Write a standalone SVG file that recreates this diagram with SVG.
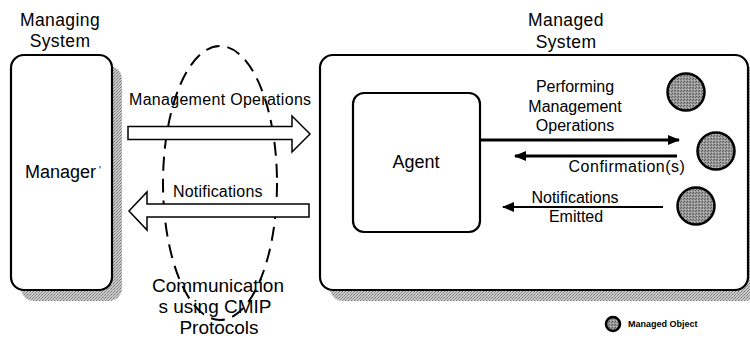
<svg xmlns="http://www.w3.org/2000/svg" width="750" height="339" viewBox="0 0 750 339">
  <defs>
    <!-- stippled grey used for drop shadows -->
    <pattern id="stipple" width="3" height="3" patternUnits="userSpaceOnUse">
      <rect width="3" height="3" fill="#c8c8c8"/>
      <rect x="0" y="0" width="1" height="1" fill="#777"/>
      <rect x="2" y="1" width="1" height="1" fill="#8a8a8a"/>
      <rect x="1" y="2" width="1" height="1" fill="#999"/>
    </pattern>
    <!-- darker stipple for managed object discs -->
    <pattern id="objfill" width="3" height="3" patternUnits="userSpaceOnUse">
      <rect width="3" height="3" fill="#9a9a9a"/>
      <rect x="0" y="0" width="1" height="1" fill="#555"/>
      <rect x="2" y="1" width="1" height="1" fill="#666"/>
      <rect x="1" y="2" width="1" height="1" fill="#c0c0c0"/>
    </pattern>
    <marker id="head" viewBox="0 0 12 10" refX="11" refY="5" markerWidth="12" markerHeight="10" markerUnits="userSpaceOnUse" orient="auto">
      <path d="M0,0 L12,5 L0,10 Z" fill="#000"/>
    </marker>
  </defs>
  <style>
    text { font-family: "Liberation Sans", Arial, sans-serif; fill: #000; }
    .box { fill: #fff; stroke: #000; stroke-width: 2.2; }
    .shadow { fill: url(#stipple); stroke: none; }
    .obj { fill: url(#objfill); stroke: #000; stroke-width: 2.5; }
    .hollow { fill: #fff; stroke: #000; stroke-width: 1.5; stroke-linejoin: miter; }
    .link { stroke: #000; fill: none; marker-end: url(#head); }
    .lbl16 { font-size: 16px; }
    .mid { text-anchor: middle; }
  </style>

  <!-- Managing system -->
  <g id="managing-system">
    <text class="mid" x="60" y="26" font-size="17.5" letter-spacing="0.4">Managing</text>
    <text class="mid" x="60" y="47" font-size="17.5" letter-spacing="0.4">System</text>
  </g>
  <g id="manager">
    <rect class="shadow" x="21" y="66" width="101" height="235" rx="13"/>
    <rect class="box" x="11" y="55" width="101" height="235" rx="13" stroke-width="2.5"/>
    <text x="25" y="178" font-size="18">Manager<tspan dx="3" font-size="10" dy="-4">'</tspan></text>
  </g>

  <!-- Managed system -->
  <g id="managed-system">
    <text class="mid" x="566" y="26" font-size="17.5" letter-spacing="0.4">Managed</text>
    <text class="mid" x="566" y="48" font-size="17.5" letter-spacing="0.4">System</text>
    <rect class="shadow" x="330" y="66" width="428" height="235" rx="13"/>
    <rect class="box" x="320" y="55" width="428" height="235" rx="13"/>
  </g>
  <g id="agent">
    <rect class="box" x="353" y="93" width="127" height="139" rx="11"/>
    <text class="mid" x="416" y="168" font-size="18">Agent</text>
  </g>
  <g id="managed-object-1">
    <circle class="obj" cx="686" cy="92" r="18.5"/>
  </g>
  <g id="managed-object-2">
    <circle class="obj" cx="716" cy="151" r="18.5"/>
  </g>
  <g id="managed-object-3">
    <circle class="obj" cx="696" cy="206" r="18.5"/>
  </g>

  <!-- CMIP communication channel -->
  <g id="cmip-channel">
    <ellipse cx="220" cy="183" rx="57" ry="137" fill="none" stroke="#000" stroke-width="2" stroke-dasharray="14 8"/>
  </g>

  <g id="connectors">
    <!-- management operations: manager to agent -->
    <polygon class="hollow" points="128,126.5 292,126.5 292,116 310,134 292,152 292,139.5 128,139.5"/>
    <!-- notifications: agent to manager -->
    <polygon class="hollow" points="309,204 147,204 147,192 129,211 147,230 147,217 309,217"/>
    <!-- agent <-> managed objects -->
    <line class="link" x1="480" y1="140" x2="679" y2="140" stroke-width="3"/>
    <line class="link" x1="677" y1="156" x2="515" y2="156" stroke-width="3"/>
    <line class="link" x1="663" y1="207" x2="503" y2="207" stroke-width="2"/>
  </g>

  <g id="connector-labels">
    <text class="lbl16" x="129" y="105" letter-spacing="0.3">Management Operations</text>
    <text class="lbl16" x="173" y="197" letter-spacing="0.2">Notifications</text>
    <text class="mid" x="218" y="292" font-size="19">Communication</text>
    <text class="mid" x="215" y="313" font-size="19">s using CMIP</text>
    <text class="mid" x="219" y="334" font-size="19">Protocols</text>
    <text class="lbl16 mid" x="575" y="92">Performing</text>
    <text class="lbl16 mid" x="575" y="112">Management</text>
    <text class="lbl16 mid" x="575" y="131">Operations</text>
    <text class="lbl16 mid" x="627" y="172" letter-spacing="0.5">Confirmation(s)</text>
    <text class="lbl16 mid" x="575" y="203">Notifications</text>
    <text class="lbl16 mid" x="576" y="222">Emitted</text>
  </g>

  <!-- legend -->
  <g id="legend">
    <circle class="obj" cx="613" cy="324" r="7" stroke-width="1.2"/>
    <text x="628" y="327" font-size="9" font-weight="bold">Managed Object</text>
  </g>
</svg>
